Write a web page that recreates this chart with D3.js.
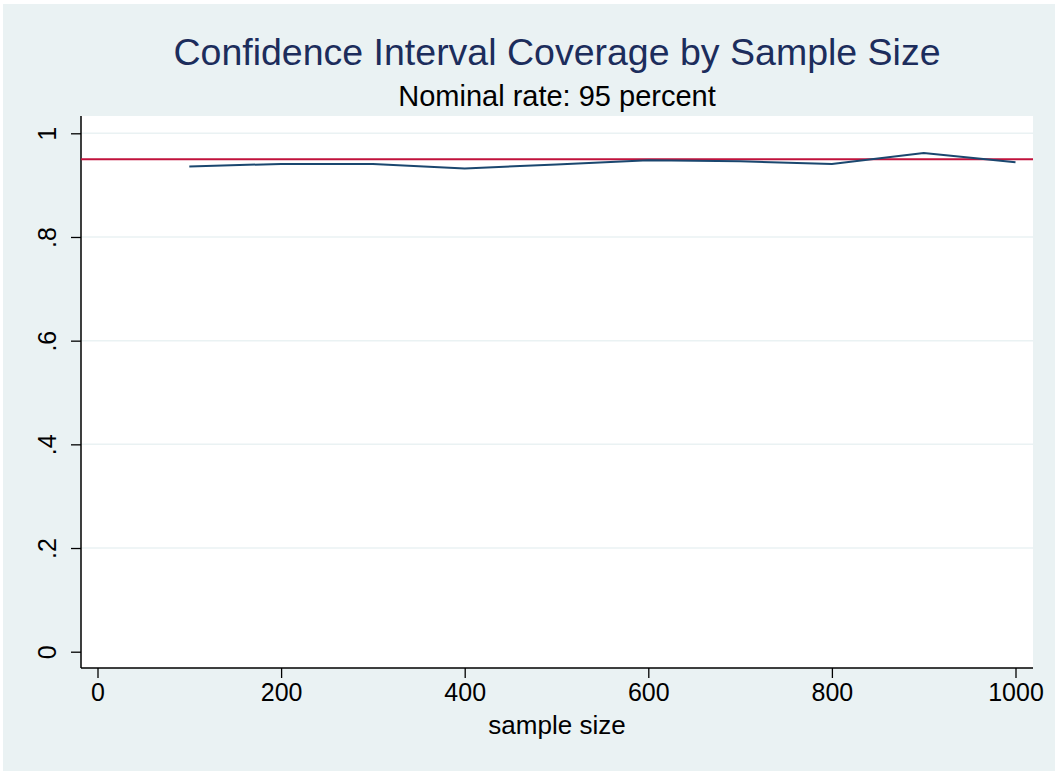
<!DOCTYPE html>
<html>
<head>
<meta charset="utf-8">
<script src="https://cdn.jsdelivr.net/npm/d3@7"></script>
<style>
  body { margin: 0; background: #ffffff; overflow: hidden; }
  text { font-family: "Liberation Sans", Arial, Helvetica, sans-serif; }
</style>
</head>
<body>
<div id="chart"></div>
<script>
// coverage rate by sample size
var sampleSize = [100, 200, 300, 400, 500, 600, 700, 800, 900, 1000];
var coverage   = [0.936, 0.941, 0.941, 0.932, 0.940, 0.948, 0.946, 0.941, 0.962, 0.944];
var nominal = 0.95;
var xTicks = [0, 200, 400, 600, 800, 1000];
var yTicks = [0, 0.2, 0.4, 0.6, 0.8, 1];

var W = 1055, H = 771;
var margin = {top: 116, right: 22, bottom: 103, left: 81};
var width = W - margin.left - margin.right,
    height = H - margin.top - margin.bottom;

var svg = d3.select("#chart").append("svg")
    .attr("width", W)
    .attr("height", H)
    .style("display", "block");

// outer background
svg.append("rect")
    .attr("x", 3).attr("y", 4)
    .attr("width", W - 3).attr("height", H - 4)
    .attr("fill", "#eaf2f3");

var g = svg.append("g")
    .attr("transform", "translate(" + margin.left + "," + margin.top + ")");

g.append("rect")
    .attr("width", width).attr("height", height)
    .attr("fill", "#ffffff");

var x = d3.scaleLinear().domain([0, 1000]).range([16.5, 934.5]);
var y = d3.scaleLinear().domain([0, 1]).range([535.7, 17.3]);

// gridlines
g.append("g").selectAll("line")
  .data(yTicks.filter(function(d) { return d > 0; }))
  .enter().append("line")
    .attr("x1", 0).attr("x2", width)
    .attr("y1", function(d) { return y(d); })
    .attr("y2", function(d) { return y(d); })
    .attr("stroke", "#eaf2f3")
    .attr("stroke-width", 1.5);

// y axis
var yAxis = g.append("g")
    .call(d3.axisLeft(y).tickValues(yTicks).tickSize(10).tickSizeOuter(0)
      .tickFormat(function(d) { return d === 0 ? "0" : d === 1 ? "1" : d3.format(".1f")(d).replace(/^0/, ""); }));
yAxis.select(".domain").attr("d", "M0,0V" + height).attr("stroke", "#000").attr("stroke-width", 1.5);
yAxis.selectAll(".tick line").attr("stroke", "#000").attr("stroke-width", 1.3);
yAxis.selectAll(".tick text")
    .attr("font-size", 25)
    .attr("fill", "#000")
    .attr("text-anchor", "middle")
    .attr("transform", "translate(-34,0) rotate(-90)")
    .attr("x", 0).attr("y", 0).attr("dy", "0.35em");

// x axis
var xAxis = g.append("g")
    .attr("transform", "translate(0," + height + ")")
    .call(d3.axisBottom(x).tickValues(xTicks).tickSize(10).tickSizeOuter(0).tickFormat(d3.format("d")));
xAxis.select(".domain").attr("d", "M0,0H" + width).attr("stroke", "#000").attr("stroke-width", 1.5);
xAxis.selectAll(".tick line").attr("stroke", "#000").attr("stroke-width", 1.3);
xAxis.selectAll(".tick text")
    .attr("font-size", 25)
    .attr("fill", "#000")
    .attr("y", 15).attr("dy", "0.71em");

// nominal rate line
g.append("line")
    .attr("x1", 0).attr("x2", width)
    .attr("y1", y(nominal)).attr("y2", y(nominal))
    .attr("stroke", "#c1123c")
    .attr("stroke-width", 2);

// coverage line
var line = d3.line()
    .x(function(d, i) { return x(sampleSize[i]); })
    .y(function(d) { return y(d); });

g.append("path")
    .datum(coverage)
    .attr("d", line)
    .attr("fill", "none")
    .attr("stroke", "#1a476f")
    .attr("stroke-width", 2);

// titles
svg.append("text")
    .attr("x", margin.left + width / 2).attr("y", 65)
    .attr("text-anchor", "middle")
    .attr("font-size", 37.5)
    .attr("fill", "#1c2d5c")
    .text("Confidence Interval Coverage by Sample Size");

svg.append("text")
    .attr("x", margin.left + width / 2).attr("y", 106)
    .attr("text-anchor", "middle")
    .attr("font-size", 29)
    .attr("fill", "#000")
    .text("Nominal rate: 95 percent");

svg.append("text")
    .attr("x", margin.left + width / 2).attr("y", 734)
    .attr("text-anchor", "middle")
    .attr("font-size", 26)
    .attr("fill", "#000")
    .text("sample size");
</script>
</body>
</html>
